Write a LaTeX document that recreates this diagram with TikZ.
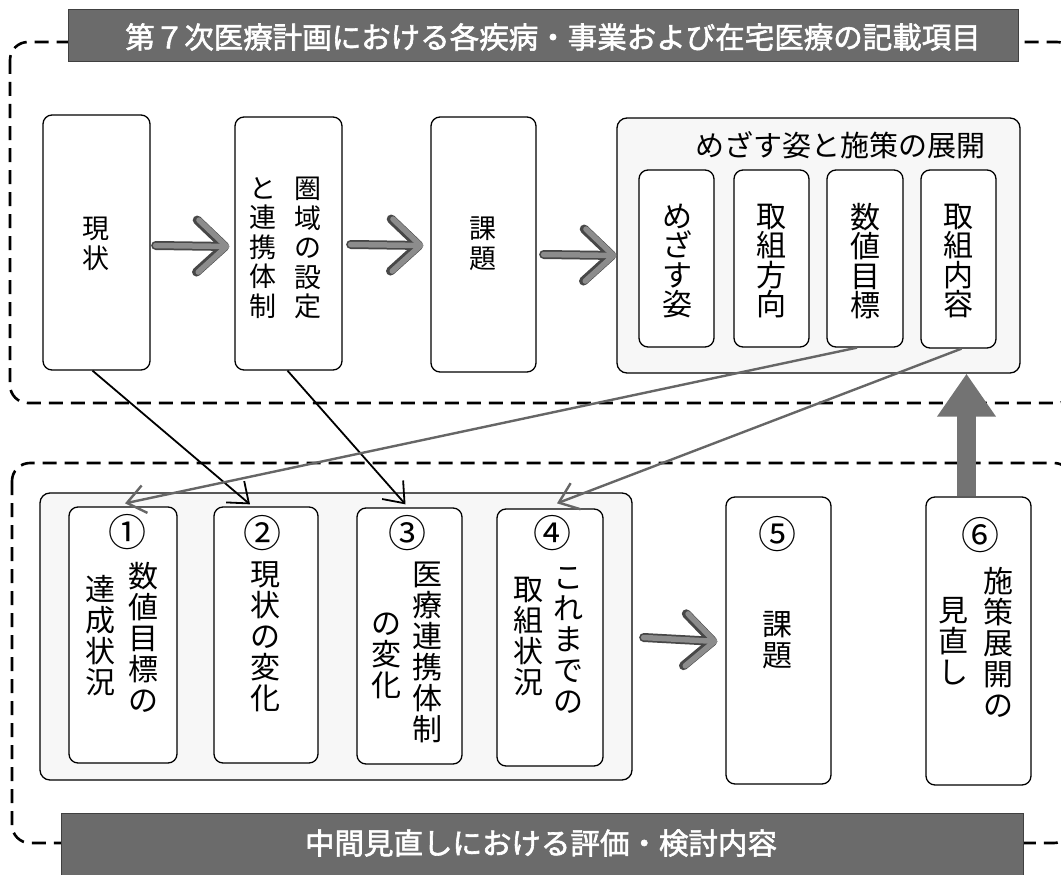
\documentclass[tikz,border=0pt]{standalone}
\usepackage{fontspec}
\setmainfont{Noto Sans CJK JP}
\newfontfamily\bannerfont[FakeBold=2]{Noto Sans CJK JP}
\usetikzlibrary{arrows.meta,fit,calc}
\begin{document}
\begin{tikzpicture}[x=1pt,y=-1pt,
  box/.style={draw, line width=1.3pt, rounded corners=9pt, fill=white, inner sep=0pt},
  panel/.style={draw, line width=1.3pt, rounded corners=10pt, fill=gray!6, inner sep=0pt},
  dashbox/.style={line width=2.6pt, dash pattern=on 14pt off 8pt, rounded corners=18pt},
  banner/.style={fill=black!58, draw=black!75, line width=1pt, inner sep=0pt},
  bantext/.style={text=white, font=\bannerfont\fontsize{29.5}{30}\selectfont, inner sep=0pt},
  vt/.style={align=center, inner sep=0pt, font=\fontsize{30}{31}\selectfont},
  vtm/.style={align=center, inner sep=0pt, font=\fontsize{30}{29.5}\selectfont},
  vts/.style={align=center, inner sep=0pt, font=\fontsize{27}{29.5}\selectfont},
  ttl/.style={inner sep=0pt, font=\fontsize{29}{30}\selectfont},
  num/.style={inner sep=0pt, font=\fontsize{38}{38}\selectfont},
  chevo/.style={draw=black!72, line width=9pt, line cap=round, -{Straight Barb[length=28pt,width=52pt,round]}},
  chev/.style={draw=black!45, line width=5.5pt, line cap=round, -{Straight Barb[length=28pt,width=52pt,round]}},
  thinarr/.style={draw=black, line width=1.8pt, -{Straight Barb[length=18pt,width=28pt]}},
  grayarr/.style={draw=black!60, line width=2.4pt, -{Straight Barb[length=18pt,width=28pt]}},
  uparr/.style={draw=black!55, line width=19pt, -{Triangle[length=43pt,width=56pt]}}
]
\useasboundingbox (0,0) rectangle (1061,875);

% dashed frames
\draw[dashbox] (10,42) rectangle (1075,403);
\draw[dashbox] (12,463) rectangle (1072,843);

% banners
\node[banner, minimum width=950pt, minimum height=52pt] (tb) at (543,36) {};
\node[bantext] (tbt) at (553,37) {第７次医療計画における各疾病・事業および在宅医療の記載項目};
\node[banner, minimum width=962pt, minimum height=62pt] (bb) at (542,844) {};
\node[bantext] (bbt) at (541,843) {中間見直しにおける評価・検討内容};

% top row
\node[box, fit={(43,115) (150,370)}] (xz) {};
\node[vts] (xzt) at (96,244) {現\\状};
\node[box, fit={(235,117) (342,370)}] (kx) {};
\node[vts] (kxr) at (308,248) {圏\\域\\の\\設\\定};
\node[vts] (kxl) at (263,248) {と\\連\\携\\体\\制};
\node[box, fit={(431,117) (536,372)}] (kd) {};
\node[vts] (kdt) at (483,244) {課\\題};
\node[panel, fit={(617,118) (1020,373)}] (P) {};
\node[ttl] (Pt) at (840,145) {めざす姿と施策の展開};
\node[box, fit={(639,170) (714,347)}] (m1) {};
\node[vtm] (m1t) at (677,261) {め\\ざ\\す\\姿};
\node[box, fit={(734,170) (809,347)}] (m2) {};
\node[vtm] (m2t) at (771,261) {取\\組\\方\\向};
\node[box, fit={(827,170) (903,347)}] (m3) {};
\node[vtm] (m3t) at (865,261) {数\\値\\目\\標};
\node[box, fit={(921,170) (996,348)}] (m4) {};
\node[vtm] (m4t) at (958,261) {取\\組\\内\\容};

% bottom row
\node[panel, fit={(40,493) (632,780)}] (Q) {};
\node[box, fit={(69,507) (177,763)}] (b1) {};
\node[num] (n1) at (127,532) {①};
\node[vt] (b1r) at (143,637) {数\\値\\目\\標\\の};
\node[vt] (b1l) at (100,636) {達\\成\\状\\況};
\node[box, fit={(214,507) (318,763)}] (b2) {};
\node[num] (n2) at (262,533) {②};
\node[vt] (b2t) at (265,637) {現\\状\\の\\変\\化};
\node[box, fit={(357,508) (462,764)}] (b3) {};
\node[num] (n3) at (407,533) {③};
\node[vt] (b3r) at (427,652) {医\\療\\連\\携\\体\\制};
\node[vt] (b3l) at (386,656) {の\\変\\化};
\node[box, fit={(497,509) (603,766)}] (b4) {};
\node[num] (n4) at (552,533) {④};
\node[vt] (b4r) at (568,640) {こ\\れ\\ま\\で\\の};
\node[vt] (b4l) at (528,637) {取\\組\\状\\況};
\node[box, fit={(726,497) (831,784)}] (b5) {};
\node[num] (n5) at (777,534) {⑤};
\node[vt] (b5t) at (777,640) {課\\題};
\node[box, fit={(926,497) (1031,785)}] (b6) {};
\node[num] (n6) at (980,535) {⑥};
\node[vt] (b6r) at (998,642) {施\\策\\展\\開\\の};
\node[vt] (b6l) at (953,641) {見\\直\\し};

% chevron arrows (outline, then fill)
\foreach \st in {chevo,chev}{
  \draw[\st] ([xshift=5pt,yshift=-3pt]xz.east) -- ([xshift=-5pt,yshift=-3pt]kx.west);
  \draw[\st] ([xshift=8pt,yshift=-1pt]kx.east) -- ([xshift=-7pt,yshift=-1pt]kd.west);
  \draw[\st] ([xshift=7pt,yshift=-10pt]kd.east) -- ([yshift=-10pt]P.west);
  \draw[\st] ([xshift=11pt,yshift=-1pt]Q.east) -- ([xshift=-8pt,yshift=-1pt]b5.west);
}

% up arrow
\draw[uparr] ([xshift=-12pt]b6.north) -- ([xshift=-12pt]b6.north |- P.south);

% crossing arrows
\draw[thinarr] ([xshift=-4pt]xz.south) -- ([xshift=-16pt,yshift=2pt]b2.north);
\draw[thinarr] ([xshift=-1pt]kx.south) -- ([xshift=-4pt,yshift=3pt]b3.north);
\draw[grayarr] ([xshift=-8pt]m3.south) -- ([xshift=2pt,yshift=3pt]b1.north);
\draw[grayarr] ([xshift=3pt]m4.south) -- ([xshift=7pt,yshift=5pt]b4.north);
\end{tikzpicture}
\end{document}
